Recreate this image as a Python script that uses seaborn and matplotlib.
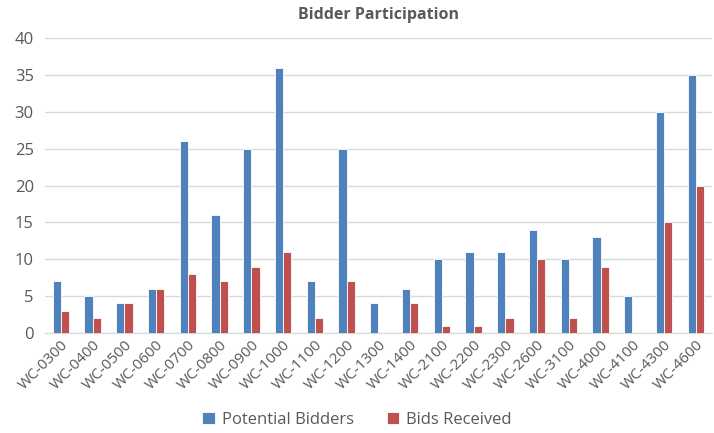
import matplotlib
matplotlib.use("Agg")
import matplotlib.pyplot as plt
import seaborn as sns
import pandas as pd

categories = ["WC-0300", "WC-0400", "WC-0500", "WC-0600", "WC-0700", "WC-0800", "WC-0900",
              "WC-1000", "WC-1100", "WC-1200", "WC-1300", "WC-1400", "WC-2100", "WC-2200",
              "WC-2300", "WC-2600", "WC-3100", "WC-4000", "WC-4100", "WC-4300", "WC-4600"]
potential_bidders = [7, 5, 4, 6, 26, 16, 25, 36, 7, 25, 4, 6, 10, 11, 11, 14, 10, 13, 5, 30, 35]
bids_received = [3, 2, 4, 6, 8, 7, 9, 11, 2, 7, 0, 4, 1, 1, 2, 10, 2, 9, 0, 15, 20]
series_names = ["Potential Bidders", "Bids Received"]
y_ticks = [0, 5, 10, 15, 20, 25, 30, 35, 40]

df = pd.DataFrame({
    "Category": categories * 2,
    "Value": potential_bidders + bids_received,
    "Series": [series_names[0]] * len(categories) + [series_names[1]] * len(categories),
})

sns.set_style("white")
plt.rcParams["font.family"] = ["Open Sans", "DejaVu Sans"]
txt = "#595959"

fig = plt.figure(figsize=(7.14, 4.33), dpi=100)
ax = fig.add_axes([0.063, 0.231, 0.934, 0.681])

sns.barplot(data=df, x="Category", y="Value", hue="Series", order=categories,
            hue_order=series_names, palette=["#4F81BD", "#C0504D"], width=0.52,
            saturation=1, edgecolor="white", linewidth=0.6, ax=ax, zorder=3)

ax.set_ylim(0, 40)
ax.set_yticks(y_ticks)
ax.set_xlim(-0.5, len(categories) - 0.5)
ax.yaxis.grid(True, color="#d9d9d9", linewidth=1, zorder=0)
for s in ["top", "right", "left"]:
    ax.spines[s].set_visible(False)
ax.spines["bottom"].set_color("#d9d9d9")
ax.set_xlabel("")
ax.set_ylabel("")
ax.tick_params(axis="both", length=0, colors=txt, labelsize=12)
ax.tick_params(axis="y", pad=8)
plt.setp(ax.get_xticklabels(), rotation=45, ha="right", rotation_mode="anchor", fontsize=11)

fig.text(0.53, 0.965, "Bidder Participation", ha="center", va="center",
         fontsize=11.5, fontweight="bold", color=txt)

handles, labels = ax.get_legend_handles_labels()
ax.legend_.remove()
leg = fig.legend(handles, labels, loc="center", bbox_to_anchor=(0.5, 0.03), ncol=2,
                 frameon=False, fontsize=12, handlelength=0.75, handleheight=0.75,
                 columnspacing=2.0, handletextpad=0.4)
for t in leg.get_texts():
    t.set_color(txt)

fig.savefig("out.png", dpi=100)
